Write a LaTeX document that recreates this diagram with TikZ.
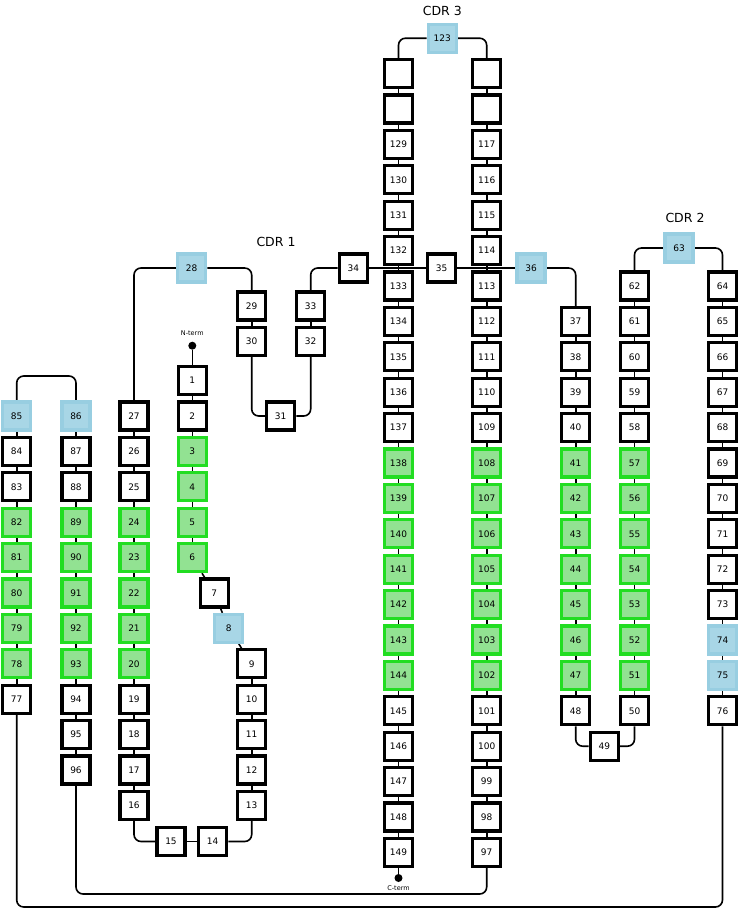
\documentclass[tikz,border=0pt]{standalone}
\usepackage{fontspec}
\setmainfont{DejaVu Sans}
\usetikzlibrary{backgrounds}
\definecolor{cdrblue}{RGB}{168,214,230}
\definecolor{cdredge}{RGB}{152,206,225}
\definecolor{sheetfill}{RGB}{146,226,146}
\definecolor{sheetedge}{RGB}{34,221,34}

\begin{document}
\begin{tikzpicture}[
    x=1pt, y=-1pt,
    res/.style={draw, line width=3.2pt, minimum size=28pt, inner sep=0pt, fill=white, font=\fontsize{9}{10}\selectfont},
    sheet/.style={res, draw=sheetedge, fill=sheetfill},
    cdr/.style={res, draw=cdredge, fill=cdrblue},
    link/.style={line width=1.6pt, rounded corners=7pt},
    termdot/.style={circle, fill=black, minimum size=8pt, inner sep=0pt},
    termlbl/.style={font=\fontsize{6.5}{7}\selectfont},
    cdrlbl/.style={font=\fontsize{12.5}{14}\selectfont},
]
\useasboundingbox (0,0) rectangle (744,914);
% === Left part: strands 77-96 and 1-27 ===
\foreach \n/\s [count=\i from 0] in {85/cdr,84/res,83/res,82/sheet,81/sheet,80/sheet,79/sheet,78/sheet,77/res}
    \node[\s] (n\n) at (16.7, {416+35.4*\i}) {\n};
\foreach \n/\s [count=\i from 0] in {86/cdr,87/res,88/res,89/sheet,90/sheet,91/sheet,92/sheet,93/sheet,94/res,95/res,96/res}
    \node[\s] (n\n) at (76, {416+35.4*\i}) {\n};
\foreach \n/\s [count=\i from 0] in {27/res,26/res,25/res,24/sheet,23/sheet,22/sheet,21/sheet,20/sheet,19/res,18/res,17/res,16/res}
    \node[\s] (n\n) at (134, {416+35.4*\i}) {\n};
\foreach \n/\s [count=\i from -1] in {1/res,2/res,3/sheet,4/sheet,5/sheet,6/sheet}
    \node[\s] (n\n) at (192.3, {416+35.4*\i}) {\n};
\node[res] (n7) at (214.3, 593) {7};
\node[cdr] (n8) at (228.7, 628.4) {8};
\foreach \n [count=\i from 7] in {9,...,13}
    \node[res] (n\n) at (251.7, {416+35.4*\i}) {\n};
\node[res] (n14) at (212.7, 841.5) {14};
\node[res] (n15) at (171, 841.5) {15};
% === CDR 1 loop ===
\node[cdrlbl] (cdr1) at (276, 242) {CDR 1};
\node[cdr] (n28) at (191.7, 268) {28};
\node[res] (n29) at (251.7, 306) {29};
\node[res] (n30) at (251.7, 341.5) {30};
\node[res] (n31) at (280.7, 416) {31};
\node[res] (n32) at (310.7, 341.5) {32};
\node[res] (n33) at (310.7, 306) {33};
\node[res] (n34) at (353.3, 268) {34};
\node[res] (n35) at (441.7, 268) {35};
\node[cdr] (n36) at (531, 268) {36};
% === CDR 3 hairpin ===
\node[cdrlbl] (cdr3) at (442.3, 11) {CDR 3};
\node[cdr] (n123) at (442.3, 38.2) {123};
\node[res] (blankL1) at (398.5, 73.6) {};
\node[res] (blankL2) at (398.5, 109) {};
\node[res] (blankR1) at (486.7, 73.6) {};
\node[res] (blankR2) at (486.7, 109) {};
\foreach \n/\s [count=\i from -4] in {129/res,130/res,131/res,132/res,133/res,134/res,135/res,136/res,137/res,138/sheet,139/sheet,140/sheet,141/sheet,142/sheet,143/sheet,144/sheet,145/res,146/res,147/res,148/res,149/res}
    \node[\s] (n\n) at (398.5, {286+35.4*\i}) {\n};
\foreach \n/\s [count=\i from -4] in {117/res,116/res,115/res,114/res,113/res,112/res,111/res,110/res,109/res,108/sheet,107/sheet,106/sheet,105/sheet,104/sheet,103/sheet,102/sheet,101/res,100/res,99/res,98/res,97/res}
    \node[\s] (n\n) at (486.7, {286+35.4*\i}) {\n};
% === Right part: strands 37-76, CDR 2 ===
\foreach \n/\s [count=\i from 1] in {37/res,38/res,39/res,40/res,41/sheet,42/sheet,43/sheet,44/sheet,45/sheet,46/sheet,47/sheet,48/res}
    \node[\s] (n\n) at (575.7, {286+35.4*\i}) {\n};
\node[res] (n49) at (604.3, 746.2) {49};
\foreach \n/\s [count=\i from 0] in {62/res,61/res,60/res,59/res,58/res,57/sheet,56/sheet,55/sheet,54/sheet,53/sheet,52/sheet,51/sheet,50/res}
    \node[\s] (n\n) at (634.5, {286+35.4*\i}) {\n};
\node[cdrlbl] (cdr2) at (685, 218) {CDR 2};
\node[cdr] (n63) at (679, 248) {63};
\foreach \n/\s [count=\i from 0] in {64/res,65/res,66/res,67/res,68/res,69/res,70/res,71/res,72/res,73/res,74/cdr,75/cdr,76/res}
    \node[\s] (n\n) at (722.5, {286+35.4*\i}) {\n};
% === Termini ===
\node[termdot] (nterm) at (192.3, 345.7) {};
\node[termlbl] (ntermlbl) at (192.3, 333) {N-term};
\node[termdot] (cterm) at (398.5, 878) {};
\node[termlbl] (ctermlbl) at (398.5, 888) {C-term};
\coordinate (loop85) at (46, 376);
\coordinate (end96) at (280, 894);
\coordinate (end77) at (370, 907);
% === Connectors ===
\begin{scope}[on background layer]
\foreach \a/\b in {77/84, 86/95, 16/26, 1/12, 129/148, 97/116, 37/47, 50/61, 64/75} {
    \foreach \k in {\a,...,\b} {
        \pgfmathtruncatemacro\m{\k+1}
        \draw[link] (n\k) -- (n\m);
    }
}
\draw[link] (n14) -- (n15);
\draw[link] (n29) -- (n30);
\draw[link] (n32) -- (n33);
\draw[link] (n34) -- (n35) -- (n36);
\draw[link] (blankL1) -- (blankL2) -- (n129);
\draw[link] (blankR1) -- (blankR2) -- (n117);
\draw[link] (n28.west) -| (n27.north);
\draw[link] (n28.east) -| (n29.north);
\draw[link] (n30.south) |- (n31.west);
\draw[link] (n31.east) -| (n32.south);
\draw[link] (n33.north) |- (n34.west);
\draw[link] (n36.east) -| (n37.north);
\draw[link] (n123.west) -| (blankL1.north);
\draw[link] (n123.east) -| (blankR1.north);
\draw[link] (n63.west) -| (n62.north);
\draw[link] (n63.east) -| (n64.north);
\draw[link] (n48.south) |- (n49.west);
\draw[link] (n49.east) -| (n50.south);
\draw[link] (n16.south) |- (n15.west);
\draw[link] (n14.east) -| (n13.south);
\draw[link] (n85.north) |- (loop85) -| (n86.north);
\draw[link] (n96.south) |- (end96) -| (n97.south);
\draw[link] (n77.south) |- (end77) -| (n76.south);
\draw[link] (nterm) -- (n1);
\draw[link] (n149) -- (cterm);
\end{scope}
\end{tikzpicture}
\end{document}
